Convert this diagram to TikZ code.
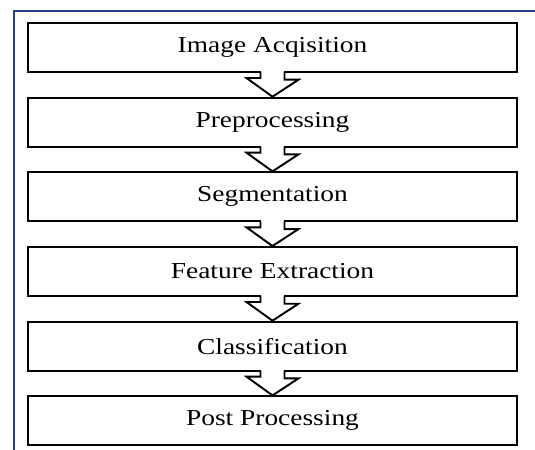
\documentclass[tikz,border=0pt]{standalone}
\usepackage{fontspec}
\setmainfont{Liberation Serif}[FakeStretch=1.2]
\usepackage{xcolor}
\usetikzlibrary{positioning}

\definecolor{framecol}{RGB}{38,66,132}

\tikzset{
  stage/.style={draw, line width=1.1pt, minimum width=9.78cm, minimum height=0.98cm,
                inner sep=0pt, font=\fontsize{13}{15}\selectfont},
  blockarrow/.style={draw, line width=1.1pt, line join=miter}
}

\begin{document}
\begin{tikzpicture}[x=0.02cm, y=-0.02cm]
            \useasboundingbox (0,0) rectangle (535,450);
            \draw [framecol, line width=0.9pt] (14,450) -- (14,11) -- (535,11);   %Rahmen
            % Stufen
            \node [stage] (acq) at (272.5,47.5) {Image Acqisition};
            \node [stage, below=0.475cm of acq] (pre) {Preprocessing};
            \node [stage, below=0.475cm of pre] (seg) {Segmentation};
            \node [stage, below=0.475cm of seg] (feat) {Feature Extraction};
            \node [stage, below=0.475cm of feat] (cls) {Classification};
            \node [stage, below=0.475cm of cls] (post) {Post Processing};
            % Blockpfeile
            \foreach \a/\b in {acq/pre, pre/seg, seg/feat, feat/cls, cls/post} {
              \fill [white] ([xshift=-0.24cm, yshift=0.06cm]\a.south) rectangle ([xshift=0.24cm, yshift=-0.12cm]\a.south);
              \draw [blockarrow] ([xshift=-0.24cm, yshift=0.55pt]\a.south) -- ++(0,-0.12cm) -- ++(-0.28cm,0)
                    -- (\b.north) -- ([xshift=0.52cm, yshift=0.34cm]\b.north) -- ++(-0.28cm,0)
                    -- ([xshift=0.24cm, yshift=0.55pt]\a.south);
            }
\end{tikzpicture}
\end{document}
